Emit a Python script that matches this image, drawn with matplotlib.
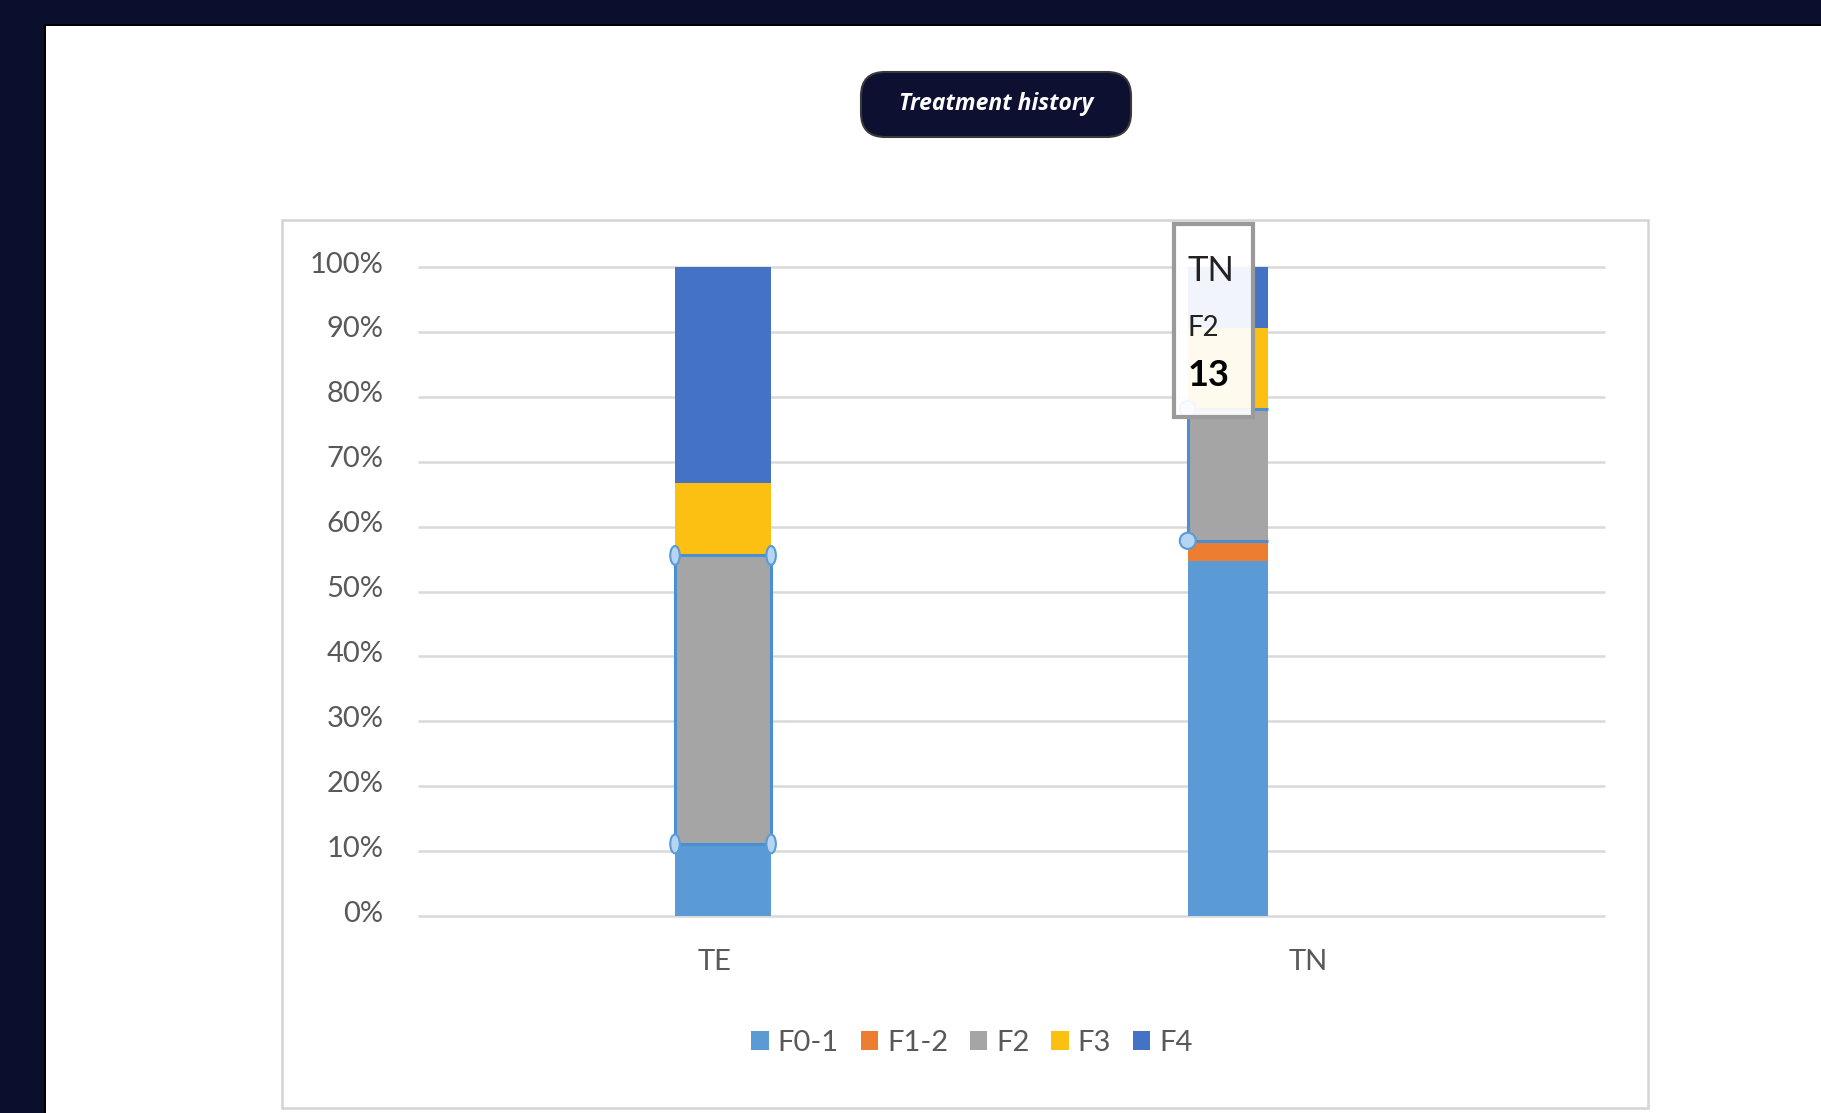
import matplotlib.pyplot as plt
import matplotlib.transforms as mtransforms
import numpy as np
from matplotlib.patches import Rectangle, FancyBboxPatch, Ellipse, Patch

# Data (counts per fibrosis stage)
categories = ['TE', 'TN']
stages = ['F0-1', 'F1-2', 'F2', 'F3', 'F4']
te_counts = [1, 0, 4, 1, 3]
tn_counts = [35, 2, 13, 8, 6]
stage_colors = ['#5B9BD5', '#ED7D31', '#A5A5A5', '#FBC012', '#4472C4']
selected_stage = 'F2'
tooltip_category = 'TN'

W, H = 1821, 1113
DARK = '#0B0F2E'
GRID = '#D9D9D9'
TEXT = '#595959'
FONT = 'Lato'

counts = np.array([te_counts, tn_counts], dtype=float).T  # stages x categories
pct = counts / counts.sum(axis=0)

fig = plt.figure(figsize=(W / 100, H / 100), dpi=100, facecolor=DARK)

# background layer in pixel coordinates
bg = fig.add_axes([0, 0, 1, 1], zorder=0)
bg.set_xlim(0, W)
bg.set_ylim(H, 0)
bg.axis('off')
bg.add_patch(Rectangle((44, 24), W, H, fc='black', ec='none'))
bg.add_patch(Rectangle((46, 26), W, H, fc='white', ec='none'))
bg.add_patch(Rectangle((282, 220), 1366, 888, fc='white', ec='#D4D4D4', lw=1.8))

# title pill
bg.add_patch(FancyBboxPatch((861, 72), 270, 65,
                            boxstyle='round,pad=0,rounding_size=24',
                            fc='#0D1030', ec='#3A3A3A', lw=1.5))
bg.text(996, 103.5, 'Treatment history', color='white', fontsize=16.5,
        fontweight='bold', fontstyle='italic', family='Open Sans',
        ha='center', va='center')

# main chart
ax = fig.add_axes([418 / W, (H - 916) / H, 1187 / W, 649 / H], zorder=1)
ax.set_facecolor('none')
ax.set_xlim(-0.5, 1.5)
ax.set_ylim(0, 1)
yticks = np.arange(0, 1.01, 0.1)
ax.hlines(yticks, -0.5, 1.5, color=GRID, lw=1.8, clip_on=False, zorder=1)
for s in ax.spines.values():
    s.set_visible(False)
ax.set_yticks(yticks)
ax.set_yticklabels([f'{int(round(v * 100))}%' for v in yticks])
ax.tick_params(axis='y', length=0, pad=25, labelsize=21, labelcolor=TEXT)
ax.set_xticks(np.arange(len(categories)))
ax.set_xticklabels(categories)
ax.tick_params(axis='x', length=0, pad=24, labelsize=21, labelcolor=TEXT)
lift = mtransforms.ScaledTranslation(0, 5 / 100, fig.dpi_scale_trans)
for lab in ax.get_yticklabels():
    lab.set_family(FONT)
    lab.set_transform(lab.get_transform() + lift)
for lab in ax.get_xticklabels():
    lab.set_family(FONT)

# bar placement as it appears in the screenshot
bar_offsets = np.array([-0.067, -0.203])
bar_widths = np.array([0.162, 0.136])
x_left = np.arange(len(categories)) + bar_offsets

bottom = np.zeros(len(categories))
sel_bottom = sel_top = None
for i, stage in enumerate(stages):
    ax.bar(x_left, pct[i], width=bar_widths, bottom=bottom, align='edge',
           color=stage_colors[i], ec='none', zorder=2)
    if stage == selected_stage:
        sel_bottom = bottom.copy()
        sel_top = bottom + pct[i]
    bottom = bottom + pct[i]

# selection outline + handles on the selected series
SEL = '#4A8FD4'
handle_sides = [[0, 1], [0]]
for j, sides in enumerate(handle_sides):
    xl, xr = x_left[j], x_left[j] + bar_widths[j]
    ax.hlines([sel_bottom[j], sel_top[j]], xl, xr, color=SEL, lw=2.2, zorder=3)
    for side in sides:
        xh = xl + side * bar_widths[j]
        ax.vlines(xh, sel_bottom[j], sel_top[j], color=SEL, lw=2.2, zorder=3)
        for yh in (sel_bottom[j], sel_top[j]):
            if j == 0:
                e = Ellipse((xh, yh), 0.016, 0.029, fc='#B5D5F2', ec='#5B9BD5',
                            lw=1.5, zorder=4)
            else:
                e = Ellipse((xh, yh), 0.027, 0.025, fc='#B5D5F2', ec='#5B9BD5',
                            lw=1.5, zorder=4)
            ax.add_patch(e)

# legend
handles = [Patch(fc=c, ec='none') for c in stage_colors]
leg = fig.legend(handles, stages, loc='center', ncol=5, frameon=False,
                 bbox_to_anchor=(972 / W, 1 - 1043 / H),
                 handlelength=0.6, handleheight=0.6, handletextpad=0.3,
                 columnspacing=0.75, prop={'family': FONT, 'size': 21})
for t in leg.get_texts():
    t.set_color(TEXT)

# hover tooltip
fg = fig.add_axes([0, 0, 1, 1], zorder=5)
fg.set_xlim(0, W)
fg.set_ylim(H, 0)
fg.axis('off')
fg.add_patch(Rectangle((1174, 224), 79, 193, fc='white', alpha=0.93,
                       ec='none'))
fg.add_patch(Rectangle((1174, 224), 79, 193, fc='none', ec='#9A9A9A', lw=3))
ci = categories.index(tooltip_category)
si = stages.index(selected_stage)
fg.text(1188, 271, tooltip_category, fontsize=25, family=FONT,
        color='#222222', ha='left', va='center')
fg.text(1188, 328, selected_stage, fontsize=20, family=FONT,
        color='#222222', ha='left', va='center')
fg.text(1188, 376, f'{int(counts[si, ci])}', fontsize=26, family=FONT,
        fontweight='bold', color='black', ha='left', va='center')

fig.savefig('out.png', dpi=100, facecolor=DARK)
